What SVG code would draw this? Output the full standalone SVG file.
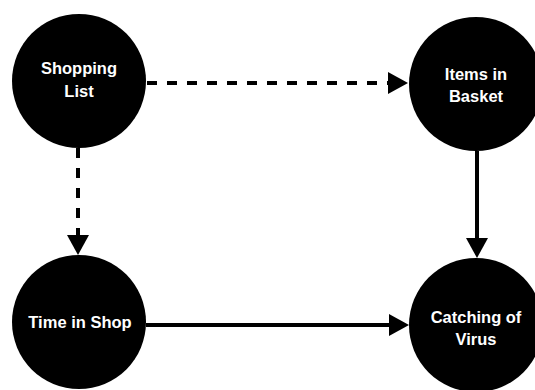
<svg xmlns="http://www.w3.org/2000/svg" width="535" height="390" viewBox="0 0 535 390">
  <style>
    .node circle { fill: #000; }
    .node text { fill: #fff; font-family: "Liberation Sans", Arial, Helvetica, sans-serif; font-weight: bold; font-size: 16.5px; text-anchor: middle; }
    .edge { stroke: #000; stroke-width: 4; fill: none; }
    .dashed { stroke-dasharray: 10 10; }
  </style>
  <defs>
    <marker id="arrow" markerUnits="userSpaceOnUse" markerWidth="20" markerHeight="22" viewBox="0 0 20 22" refX="0" refY="11" orient="auto">
      <path d="M0,0 L20,11 L0,22 Z" fill="#000"/>
    </marker>
  </defs>
  <rect width="535" height="390" fill="#fff"/>
  <g id="connectors">
    <line class="edge dashed" x1="147" y1="83" x2="388" y2="83" marker-end="url(#arrow)"/>
    <line class="edge dashed" x1="78" y1="148" x2="78" y2="235" marker-end="url(#arrow)"/>
    <line class="edge" x1="477" y1="151" x2="477" y2="238" marker-end="url(#arrow)"/>
    <line class="edge" x1="146" y1="325" x2="389" y2="325" marker-end="url(#arrow)"/>
  </g>
  <g id="shopping-list" class="node">
    <circle cx="79" cy="81" r="67"/>
    <text x="79" y="74">Shopping</text>
    <text x="79" y="97">List</text>
  </g>
  <g id="items-in-basket" class="node">
    <circle cx="476" cy="84" r="67"/>
    <text x="476" y="80">Items in</text>
    <text x="476" y="102">Basket</text>
  </g>
  <g id="time-in-shop" class="node">
    <circle cx="79" cy="322" r="67"/>
    <text x="80" y="328">Time in Shop</text>
  </g>
  <g id="catching-of-virus" class="node">
    <circle cx="476" cy="325" r="67"/>
    <text x="476" y="323">Catching of</text>
    <text x="476" y="345">Virus</text>
  </g>
</svg>
